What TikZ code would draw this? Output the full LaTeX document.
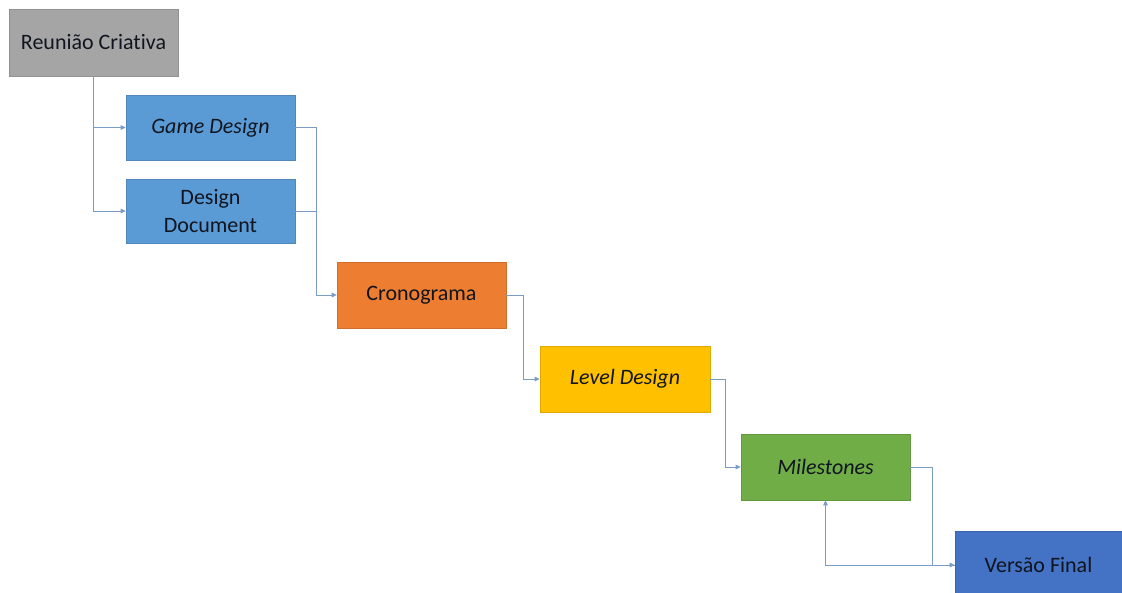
\documentclass[tikz,border=0pt]{standalone}
\usepackage{fontspec}
\setmainfont[Ligatures=NoCommon]{Carlito}
\usetikzlibrary{arrows.meta}
\definecolor{cgray}{HTML}{A5A5A5}
\definecolor{cblue}{HTML}{5B9BD5}
\definecolor{corange}{HTML}{ED7D31}
\definecolor{cyellow}{HTML}{FFC000}
\definecolor{cgreen}{HTML}{70AD47}
\definecolor{cdblue}{HTML}{4472C4}
\definecolor{cline}{HTML}{7B9CC4}
\definecolor{ctext}{HTML}{10151F}
\tikzset{
  box/.style={rectangle, draw=#1!88!black, line width=0.6pt, fill=#1, minimum width=169pt, minimum height=66pt, inner sep=2pt, align=center, font=\fontsize{22}{28}\selectfont, text=ctext},
  conn/.style={draw=cline, line width=0.9pt, -{Triangle[length=5pt,width=4.5pt]}},
  plain/.style={draw=cline, line width=0.9pt}
}
\begin{document}
\begin{tikzpicture}[x=1pt,y=-1pt]
\useasboundingbox (0,0) rectangle (1122,592);
\clip (0,0) rectangle (1122,592);
\fill[white] (0,0) rectangle (1122,592);
\node[box=cgray, minimum height=67pt] (rc) at (93.5,42.5) {Reunião Criativa};
\node[box=cblue, minimum height=65pt] (gd) at (210.5,127.5) {\itshape Game Design};
\node[box=cblue, minimum height=64pt, text width=150pt] (dd) at (210.5,211) {Design\\Document};
\node[box=corange] (cr) at (421.5,295) {Cronograma};
\node[box=cyellow, minimum width=170pt] (ld) at (625,379) {\itshape Level Design};
\node[box=cgreen] (ms) at (825.5,467) {\itshape Milestones};
\node[box=cdblue, minimum width=167pt, minimum height=68pt] (vf) at (1038.5,565) {Versão Final};
\draw[conn] (rc.south) |- (gd.west);
\draw[conn] (rc.south) |- (dd.west);
\draw[conn] (gd.east) -- ++(21,0) coordinate (j1) |- (cr.west);
\draw[plain] (dd.east) -- (dd.east -| j1);
\draw[conn] (cr.east) -- ++(17,0) |- (ld.west);
\draw[conn] (ld.east) -- ++(15,0) |- (ms.west);
\draw[conn] (ms.east) -- ++(22,0) |- (vf.west);
\draw[conn] (vf.west) -| (ms.south);
\end{tikzpicture}
\end{document}
